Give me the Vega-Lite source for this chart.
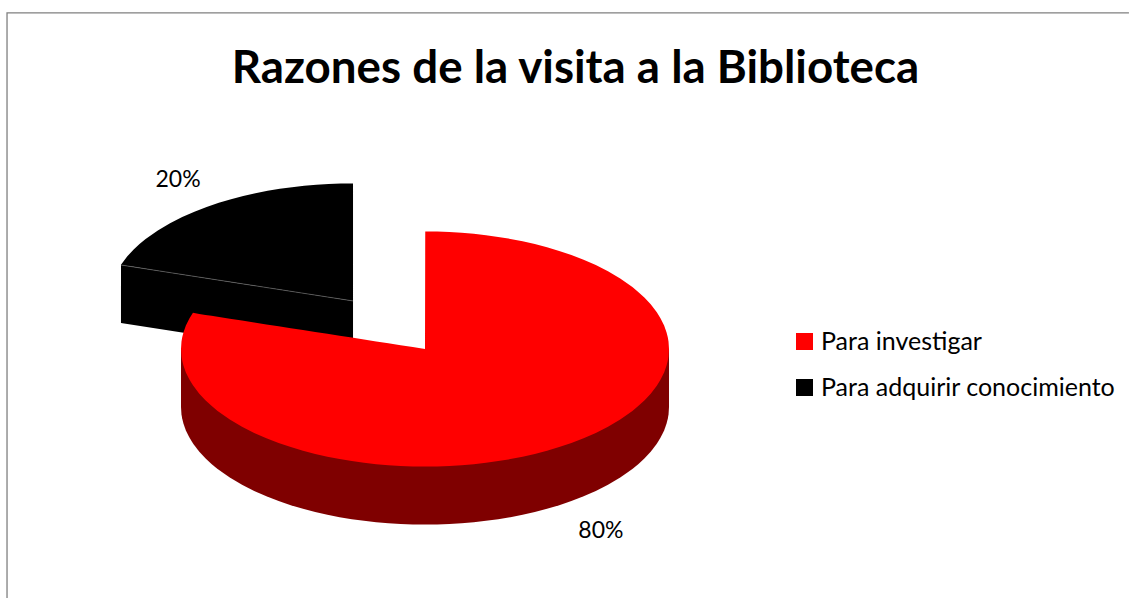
{
"$schema":"https://vega.github.io/schema/vega-lite/v6.json",
"width":1129,"height":598,"padding":0,"autosize":{"type":"none"},
"background":"white",
"title":{"text":"Razones de la visita a la Biblioteca","font":"Lato","fontSize":45.7,"fontWeight":"bold","color":"black","anchor":"middle","frame":"group","dx":11,"dy":93,"offset":0},
"config":{"view":{"stroke":null}},
"datasets":{
"negro":[
{"razon":"Para adquirir conocimiento","u":-1.246,"v":0.718,"v2":0.715},
{"razon":"Para adquirir conocimiento","u":-1.22,"v":0.789,"v2":0.707},
{"razon":"Para adquirir conocimiento","u":-1.195,"v":0.845,"v2":0.699},
{"razon":"Para adquirir conocimiento","u":-1.17,"v":0.893,"v2":0.691},
{"razon":"Para adquirir conocimiento","u":-1.145,"v":0.936,"v2":0.683},
{"razon":"Para adquirir conocimiento","u":-1.095,"v":1.009,"v2":0.667},
{"razon":"Para adquirir conocimiento","u":-1.045,"v":1.07,"v2":0.65},
{"razon":"Para adquirir conocimiento","u":-0.995,"v":1.123,"v2":0.634},
{"razon":"Para adquirir conocimiento","u":-0.945,"v":1.169,"v2":0.618},
{"razon":"Para adquirir conocimiento","u":-0.895,"v":1.209,"v2":0.602},
{"razon":"Para adquirir conocimiento","u":-0.845,"v":1.244,"v2":0.586},
{"razon":"Para adquirir conocimiento","u":-0.795,"v":1.275,"v2":0.57},
{"razon":"Para adquirir conocimiento","u":-0.745,"v":1.302,"v2":0.554},
{"razon":"Para adquirir conocimiento","u":-0.695,"v":1.326,"v2":0.538},
{"razon":"Para adquirir conocimiento","u":-0.645,"v":1.346,"v2":0.522},
{"razon":"Para adquirir conocimiento","u":-0.595,"v":1.363,"v2":0.506},
{"razon":"Para adquirir conocimiento","u":-0.545,"v":1.377,"v2":0.49},
{"razon":"Para adquirir conocimiento","u":-0.495,"v":1.389,"v2":0.473},
{"razon":"Para adquirir conocimiento","u":-0.445,"v":1.398,"v2":0.457},
{"razon":"Para adquirir conocimiento","u":-0.395,"v":1.404,"v2":0.441},
{"razon":"Para adquirir conocimiento","u":-0.345,"v":1.408,"v2":0.425},
{"razon":"Para adquirir conocimiento","u":-0.295,"v":1.409,"v2":0.409}
],
"negroLado":[
{"u":-1.246,"v":0.715,"v2":0.221},
{"u":-0.295,"v":0.409,"v2":-0.085}
],
"arista":[
{"u":-1.246,"v":0.715},
{"u":-0.295,"v":0.409}
],
"rojoLado":[
{"u":-1,"v":0,"v2":-0.494},{"u":-0.998,"v":0,"v2":-0.557},{"u":-0.995,"v":0,"v2":-0.594},{"u":-0.99,"v":0,"v2":-0.635},{"u":-0.98,"v":0,"v2":-0.693},{"u":-0.965,"v":0,"v2":-0.756},{"u":-0.95,"v":0,"v2":-0.806},{"u":-0.925,"v":0,"v2":-0.874},{"u":-0.9,"v":0,"v2":-0.93},{"u":-0.875,"v":0,"v2":-0.978},{"u":-0.85,"v":0,"v2":-1.021},{"u":-0.8,"v":0,"v2":-1.094},{"u":-0.75,"v":0,"v2":-1.155},{"u":-0.7,"v":0,"v2":-1.208},{"u":-0.65,"v":0,"v2":-1.254},{"u":-0.6,"v":0,"v2":-1.294},{"u":-0.55,"v":0,"v2":-1.329},{"u":-0.5,"v":0,"v2":-1.36},{"u":-0.45,"v":0,"v2":-1.387},{"u":-0.4,"v":0,"v2":-1.411},{"u":-0.35,"v":0,"v2":-1.431},{"u":-0.3,"v":0,"v2":-1.448},{"u":-0.25,"v":0,"v2":-1.462},{"u":-0.2,"v":0,"v2":-1.474},{"u":-0.15,"v":0,"v2":-1.483},{"u":-0.1,"v":0,"v2":-1.489},{"u":-0.05,"v":0,"v2":-1.493},{"u":0,"v":0,"v2":-1.494},
{"u":0.05,"v":0,"v2":-1.493},{"u":0.1,"v":0,"v2":-1.489},{"u":0.15,"v":0,"v2":-1.483},{"u":0.2,"v":0,"v2":-1.474},{"u":0.25,"v":0,"v2":-1.462},{"u":0.3,"v":0,"v2":-1.448},{"u":0.35,"v":0,"v2":-1.431},{"u":0.4,"v":0,"v2":-1.411},{"u":0.45,"v":0,"v2":-1.387},{"u":0.5,"v":0,"v2":-1.36},{"u":0.55,"v":0,"v2":-1.329},{"u":0.6,"v":0,"v2":-1.294},{"u":0.65,"v":0,"v2":-1.254},{"u":0.7,"v":0,"v2":-1.208},{"u":0.75,"v":0,"v2":-1.155},{"u":0.8,"v":0,"v2":-1.094},{"u":0.85,"v":0,"v2":-1.021},{"u":0.875,"v":0,"v2":-0.978},{"u":0.9,"v":0,"v2":-0.93},{"u":0.925,"v":0,"v2":-0.874},{"u":0.95,"v":0,"v2":-0.806},{"u":0.965,"v":0,"v2":-0.756},{"u":0.98,"v":0,"v2":-0.693},{"u":0.99,"v":0,"v2":-0.635},{"u":0.995,"v":0,"v2":-0.594},{"u":0.998,"v":0,"v2":-0.557},{"u":1,"v":0,"v2":-0.494}
],
"rojo":[
{"razon":"Para investigar","u":-1,"v":0,"v2":0},
{"razon":"Para investigar","u":-0.998,"v":0.063,"v2":-0.063},
{"razon":"Para investigar","u":-0.995,"v":0.1,"v2":-0.1},
{"razon":"Para investigar","u":-0.99,"v":0.141,"v2":-0.141},
{"razon":"Para investigar","u":-0.98,"v":0.199,"v2":-0.199},
{"razon":"Para investigar","u":-0.965,"v":0.262,"v2":-0.262},
{"razon":"Para investigar","u":-0.951,"v":0.309,"v2":-0.309},
{"razon":"Para investigar","u":-0.925,"v":0.298,"v2":-0.38},
{"razon":"Para investigar","u":-0.9,"v":0.29,"v2":-0.436},
{"razon":"Para investigar","u":-0.875,"v":0.282,"v2":-0.484},
{"razon":"Para investigar","u":-0.85,"v":0.274,"v2":-0.527},
{"razon":"Para investigar","u":-0.8,"v":0.258,"v2":-0.6},
{"razon":"Para investigar","u":-0.75,"v":0.242,"v2":-0.661},
{"razon":"Para investigar","u":-0.7,"v":0.225,"v2":-0.714},
{"razon":"Para investigar","u":-0.65,"v":0.209,"v2":-0.76},
{"razon":"Para investigar","u":-0.6,"v":0.193,"v2":-0.8},
{"razon":"Para investigar","u":-0.55,"v":0.177,"v2":-0.835},
{"razon":"Para investigar","u":-0.5,"v":0.161,"v2":-0.866},
{"razon":"Para investigar","u":-0.45,"v":0.145,"v2":-0.893},
{"razon":"Para investigar","u":-0.4,"v":0.129,"v2":-0.917},
{"razon":"Para investigar","u":-0.35,"v":0.113,"v2":-0.937},
{"razon":"Para investigar","u":-0.3,"v":0.097,"v2":-0.954},
{"razon":"Para investigar","u":-0.25,"v":0.081,"v2":-0.968},
{"razon":"Para investigar","u":-0.2,"v":0.064,"v2":-0.98},
{"razon":"Para investigar","u":-0.15,"v":0.048,"v2":-0.989},
{"razon":"Para investigar","u":-0.1,"v":0.032,"v2":-0.995},
{"razon":"Para investigar","u":-0.05,"v":0.016,"v2":-0.999},
{"razon":"Para investigar","u":0,"v":0,"v2":-1},
{"razon":"Para investigar","u":0.001,"v":1,"v2":-1},
{"razon":"Para investigar","u":0.05,"v":0.999,"v2":-0.999},
{"razon":"Para investigar","u":0.1,"v":0.995,"v2":-0.995},
{"razon":"Para investigar","u":0.15,"v":0.989,"v2":-0.989},
{"razon":"Para investigar","u":0.2,"v":0.98,"v2":-0.98},
{"razon":"Para investigar","u":0.25,"v":0.968,"v2":-0.968},
{"razon":"Para investigar","u":0.3,"v":0.954,"v2":-0.954},
{"razon":"Para investigar","u":0.35,"v":0.937,"v2":-0.937},
{"razon":"Para investigar","u":0.4,"v":0.917,"v2":-0.917},
{"razon":"Para investigar","u":0.45,"v":0.893,"v2":-0.893},
{"razon":"Para investigar","u":0.5,"v":0.866,"v2":-0.866},
{"razon":"Para investigar","u":0.55,"v":0.835,"v2":-0.835},
{"razon":"Para investigar","u":0.6,"v":0.8,"v2":-0.8},
{"razon":"Para investigar","u":0.65,"v":0.76,"v2":-0.76},
{"razon":"Para investigar","u":0.7,"v":0.714,"v2":-0.714},
{"razon":"Para investigar","u":0.75,"v":0.661,"v2":-0.661},
{"razon":"Para investigar","u":0.8,"v":0.6,"v2":-0.6},
{"razon":"Para investigar","u":0.85,"v":0.527,"v2":-0.527},
{"razon":"Para investigar","u":0.875,"v":0.484,"v2":-0.484},
{"razon":"Para investigar","u":0.9,"v":0.436,"v2":-0.436},
{"razon":"Para investigar","u":0.925,"v":0.38,"v2":-0.38},
{"razon":"Para investigar","u":0.95,"v":0.312,"v2":-0.312},
{"razon":"Para investigar","u":0.965,"v":0.262,"v2":-0.262},
{"razon":"Para investigar","u":0.98,"v":0.199,"v2":-0.199},
{"razon":"Para investigar","u":0.99,"v":0.141,"v2":-0.141},
{"razon":"Para investigar","u":0.995,"v":0.1,"v2":-0.1},
{"razon":"Para investigar","u":0.998,"v":0.063,"v2":-0.063},
{"razon":"Para investigar","u":1,"v":0,"v2":0}
],
"etiquetas":[
{"razon":"Para investigar","share":0.8,"u":0.721,"v":-1.55},
{"razon":"Para adquirir conocimiento","share":0.2,"u":-1.012,"v":1.44}
],
"marco":[
{"n":1,"u":2.885,"v":2.86},
{"n":2,"u":-1.713,"v":2.86},
{"n":3,"u":-1.713,"v":-2.119}
]
},
"encoding":{
"x":{"field":"u","type":"quantitative","axis":null,"scale":{"domain":[-1.7418,2.8852],"nice":false,"zero":false}},
"y":{"field":"v","type":"quantitative","axis":null,"scale":{"domain":[-2.1191,2.9702],"nice":false,"zero":false}}
},
"layer":[
{"data":{"name":"marco"},"mark":{"type":"line","color":"#808080","strokeWidth":1.3},"encoding":{"order":{"field":"n","type":"quantitative"}}},
{"data":{"name":"negroLado"},"mark":{"type":"area","color":"black"},"encoding":{"y2":{"field":"v2"}}},
{"data":{"name":"negro"},"mark":{"type":"area"},"encoding":{"y2":{"field":"v2"},
 "color":{"field":"razon","type":"nominal","scale":{"domain":["Para investigar","Para adquirir conocimiento"],"range":["#ff0000","#000000"]},
 "legend":{"title":null,"orient":"none","legendX":792,"legendY":329,"symbolType":"square","symbolSize":289,"symbolStrokeWidth":0,"labelFont":"Lato","labelFontSize":25,"labelColor":"black","rowPadding":20,"labelOffset":4,"labelLimit":400}}}},
{"data":{"name":"arista"},"mark":{"type":"line","color":"#666666","strokeWidth":0.7}},
{"data":{"name":"rojoLado"},"mark":{"type":"area","color":"#7f0000"},"encoding":{"y2":{"field":"v2"}}},
{"data":{"name":"rojo"},"mark":{"type":"area"},"encoding":{"y2":{"field":"v2"},"color":{"field":"razon","type":"nominal"}}},
{"data":{"name":"etiquetas"},"mark":{"type":"text","font":"Lato","fontSize":23,"color":"black"},"encoding":{"text":{"field":"share","type":"quantitative","format":".0%"}}}
]
}
